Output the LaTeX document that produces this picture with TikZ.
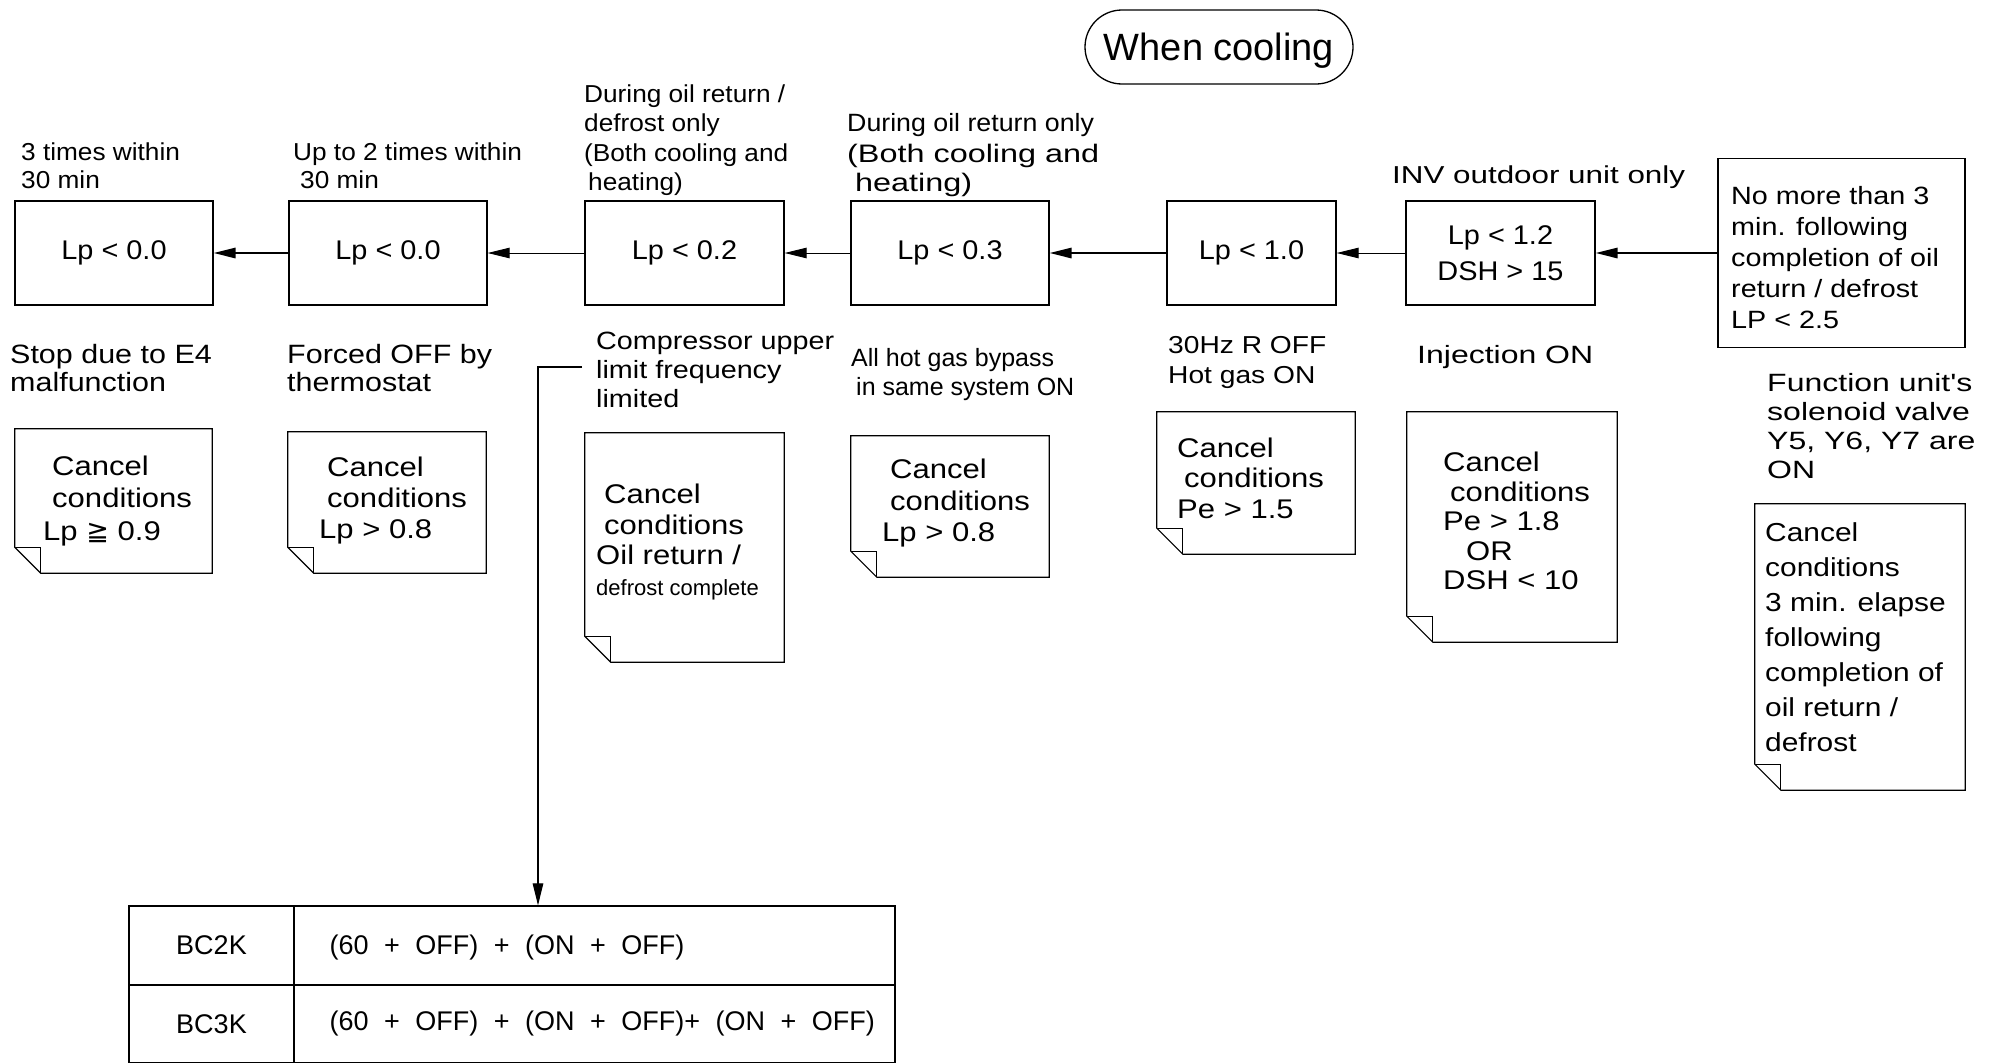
\documentclass[tikz,border=0pt]{standalone}
\usepackage{fontspec}
\setmainfont{Liberation Sans}
\newfontfamily\fMid[FakeStretch=1.07]{Liberation Sans}
\newfontfamily\fWide[FakeStretch=1.15]{Liberation Sans}
\newfontfamily\fXWide[FakeStretch=1.28]{Liberation Sans}
\newfontfamily\fSym{DejaVu Sans}
\usetikzlibrary{arrows.meta}
\newcommand\fsz[2]{\fontsize{#1}{#2}\selectfont}
\newcommand\foldframe[1]{%
  \draw[fold] (#1.north west) -- (#1.north east) -- (#1.south east)
    -- ([xshift=26pt]#1.south west) -- ([yshift=26pt]#1.south west) -- cycle;
  \draw[fold] ([yshift=26pt]#1.south west) -- ([shift={(26pt,26pt)}]#1.south west)
    -- ([xshift=26pt]#1.south west);}
\tikzset{
  box/.style={draw, line width=1.3pt, minimum height=104pt, inner sep=0pt, align=center, font=\fMid\fsz{27}{36}},
  cbox/.style={draw=none, inner sep=0pt},
  fold/.style={line width=1.2pt, line join=miter},
  lbl/.style={inner sep=0pt, anchor=west, align=left},
  ctext/.style={lbl, font=\fWide\fsz{27}{31}},
  arr/.style={line width=1.6pt, -{Triangle[length=22pt,width=10.5pt]}},
  thinarr/.style={line width=0.9pt, -{Triangle[length=22pt,width=10.5pt]}},
  cell/.style={draw, line width=1.2pt, inner sep=0pt},
  rowtext/.style={cell, minimum width=601pt, text depth=0pt},
  tabfont/.style={font=\fsz{27}{29}},
}
\begin{document}
\begin{tikzpicture}[x=1pt,y=-1pt]
\fill[white] (0,0) rectangle (1998,1063);
\useasboundingbox (0,0) rectangle (1998,1063);

% title
\node[draw, line width=1.3pt, rounded corners=37pt, minimum width=268pt, minimum height=74pt,
      inner sep=0pt, text depth=0pt, font=\fsz{38}{40}] (title) at (1219,47) {When cooling};

% main boxes
\node[box, minimum width=198pt] (bxA) at (114,253) {Lp < 0.0};
\node[box, minimum width=198pt] (bxB) at (388,253) {Lp < 0.0};
\node[box, minimum width=199pt] (bxC) at (684.5,253) {Lp < 0.2};
\node[box, minimum width=198pt] (bxD) at (950,253) {Lp < 0.3};
\node[box, minimum width=169pt] (bxE) at (1251.5,253) {Lp < 1.0};
\node[box, minimum width=189pt] (bxF) at (1500.5,253) {Lp < 1.2\\DSH > 15};
\node[box, minimum width=247pt, minimum height=189pt] (bxG) at (1841.5,253) {};
\node[lbl, font=\fWide\fsz{25}{31}] (gT) at (1731,258) {No more than 3\\min. following\\completion of oil\\return / defrost\\LP < 2.5};

% arrows
\draw[arr] (bxG.west) -- (bxF.east);
\draw[thinarr] (bxF.west) -- (bxE.east);
\draw[arr] (bxE.west) -- (bxD.east);
\draw[thinarr] (bxD.west) -- (bxC.east);
\draw[thinarr] (bxC.west) -- (bxB.east);
\draw[arr] (bxB.west) -- (bxA.east);

% labels above
\node[lbl, font=\fMid\fsz{24.5}{28}] (tA) at (21,166) {3 times within\\30 min};
\node[lbl, font=\fMid\fsz{24.5}{28}] (tB) at (293,166) {Up to 2 times within\\\hspace{7pt}30 min};
\node[lbl, font=\fMid\fsz{24.5}{29.5}] (tC) at (584,140) {During oil return /\\defrost only\\(Both cooling and\\\hspace{4pt}heating)};
\node[lbl, font=\fMid\fsz{25}{28}] (tD1) at (847,125) {During oil return only};
\node[lbl, font=\fXWide\fsz{25.3}{29}] (tD2) at (847,170) {(Both cooling and\\\hspace{8pt}heating)};
\node[lbl, font=\fXWide\fsz{24.5}{28}] (tF) at (1392,177) {INV outdoor unit only};

% labels below
\node[lbl, font=\fWide\fsz{26.5}{28.5}] (lA) at (10,368) {Stop due to E4\\malfunction};
\node[lbl, font=\fWide\fsz{26.5}{28.5}] (lB) at (287,368) {Forced OFF by\\thermostat};
\node[lbl, font=\fWide\fsz{25}{29}] (lC) at (596,370) {Compressor upper\\limit frequency\\limited};
\node[lbl, font=\fsz{25}{29}] (lD) at (851,375) {All hot gas bypass\\\hspace{5pt}in same system ON};
\node[lbl, font=\fWide\fsz{24.5}{30}] (lE) at (1168,362.5) {30Hz R OFF\\Hot gas ON};
\node[lbl, font=\fXWide\fsz{25}{28}] (lF) at (1417,357) {Injection ON};
\node[lbl, font=\fXWide\fsz{25}{29}] (lG) at (1767,426) {Function unit's\\solenoid valve\\Y5, Y6, Y7 are\\ON};

% cancel boxes
\node[cbox, minimum width=197pt, minimum height=144pt] (cA) at (113.5,501) {};
\node[cbox, minimum width=198pt, minimum height=141pt] (cB) at (387,502.5) {};
\node[cbox, minimum width=199pt, minimum height=229pt] (cC) at (684.5,547.5) {};
\node[cbox, minimum width=198pt, minimum height=141pt] (cD) at (950,506.5) {};
\node[cbox, minimum width=198pt, minimum height=142pt] (cE) at (1256,483) {};
\node[cbox, minimum width=210pt, minimum height=230pt] (cF) at (1512,527) {};
\node[cbox, minimum width=210pt, minimum height=286pt] (cG) at (1860,647) {};
\foldframe{cA}\foldframe{cB}\foldframe{cC}\foldframe{cD}\foldframe{cE}\foldframe{cF}\foldframe{cG}

\node[ctext, font=\fWide\fsz{27}{32.5}] (cAt) at (43,501) {\hspace{9pt}Cancel\\\hspace{9pt}conditions\\Lp {\fSym ≧} 0.9};
\node[ctext] (cBt) at (319,501) {\hspace{8pt}Cancel\\\hspace{8pt}conditions\\Lp > 0.8};
\node[ctext, font=\fWide\fsz{27}{30.5}] (cCt) at (596,542) {\hspace{8pt}Cancel\\\hspace{8pt}conditions\\Oil return /\\{\rmfamily\fsz{22}{30.5}defrost complete}};
\node[ctext, font=\fWide\fsz{27}{31.5}] (cDt) at (882,503.5) {\hspace{8pt}Cancel\\\hspace{8pt}conditions\\Lp > 0.8};
\node[ctext, font=\fWide\fsz{27}{30.5}] (cEt) at (1177,478) {Cancel\\\hspace{7pt}conditions\\Pe > 1.5};
\node[ctext, font=\fWide\fsz{27}{29.5}] (cFt) at (1443,521) {Cancel\\\hspace{7pt}conditions\\Pe > 1.8\\\hspace{23pt}OR\\DSH < 10};
\node[ctext, font=\fWide\fsz{26}{35}] (cGt) at (1765,637) {Cancel\\conditions\\3 min. elapse\\following\\completion of\\oil return /\\defrost};

% table
\node[cell, tabfont, minimum width=165pt, minimum height=79pt] (t11) at (211.5,945.5) {BC2K};
\node[cell, tabfont, minimum width=165pt, minimum height=78pt] (t21) at (211.5,1024) {BC3K};
\node[rowtext, minimum height=79pt] (t12) at (594.5,945.5) {};
\node[rowtext, minimum height=78pt] (t22) at (594.5,1024) {};
\node[lbl, tabfont] (r1) at ([xshift=36pt,yshift=-2pt]t12.west) {\spaceskip=15.5pt (60 + OFF) + (ON + OFF)};
\node[lbl, tabfont] (r2) at ([xshift=36pt]t22.west) {\spaceskip=15.5pt (60 + OFF) + (ON + OFF)+ (ON + OFF)};

% connector from compressor label to table
\coordinate (bend) at (538,367);
\draw[line width=1.1pt, -{Triangle[length=22pt,width=10.5pt]}] ([shift={(-14pt,3pt)}]lC.west) -- (bend) -- (bend |- t12.north);
\end{tikzpicture}
\end{document}
